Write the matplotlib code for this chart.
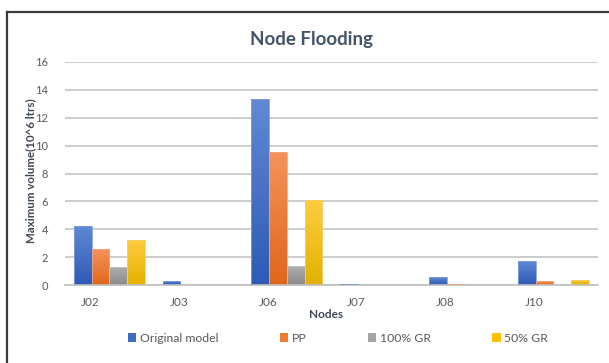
import numpy as np
import matplotlib
matplotlib.use("Agg")
import matplotlib.pyplot as plt
from matplotlib.colors import LinearSegmentedColormap
from matplotlib.lines import Line2D
from matplotlib.patches import Patch

plt.rcParams['font.family'] = ['Lato', 'DejaVu Sans']

# ---- data -------------------------------------------------------------
nodes = ["J02", "J03", "J06", "J07", "J08", "J10"]
original_model = [4.24, 0.29, 13.33, 0.07, 0.57, 1.72]
pp = [2.58, 0.0, 9.55, 0.0, 0.07, 0.27]
gr_100 = [1.27, 0.0, 1.36, 0.0, 0.0, 0.0]
gr_50 = [3.23, 0.0, 6.10, 0.0, 0.0, 0.36]
series_names = ["Original model", "PP", "100% GR", "50% GR"]
y_ticks = [0, 2, 4, 6, 8, 10, 12, 14, 16]

# gradient (top, bottom) and edge colour per series
styles = [
    ("#6189D4", "#2C5AB6", "#7E9EDB"),
    ("#F5935C", "#E0661A", "#F2A578"),
    ("#AEAEAE", "#8A8A8A", "#C4C4C4"),
    ("#FFCD40", "#E3B100", "#F0CF70"),
]
legend_colors = ["#3F6CC4", "#ED7D31", "#A5A5A5", "#FFC000"]

W, H = 609, 363
fig = plt.figure(figsize=(W / 100, H / 100), dpi=100)
ax = fig.add_axes([65 / W, 1 - 285 / H, (597.7 - 65) / W, (285 - 62) / H])

x = np.arange(len(nodes))
bar_w = 0.2
all_series = [original_model, pp, gr_100, gr_50]

grad = np.linspace(0, 1, 256).reshape(-1, 1)
for i, (vals, (top, bottom, edge)) in enumerate(zip(all_series, styles)):
    offs = (i - 1.5) * bar_w
    bars = ax.bar(x + offs, vals, width=bar_w, color="none",
                  edgecolor=edge, linewidth=0.6, zorder=3)
    cmap = LinearSegmentedColormap.from_list(f"g{i}", [bottom, top])
    for b in bars:
        h = b.get_height()
        if h <= 0:
            continue
        x0 = b.get_x()
        im = ax.imshow(grad, extent=(x0, x0 + bar_w, 0, h), origin="lower",
                       cmap=cmap, aspect="auto", zorder=2.5,
                       interpolation="bilinear")
        im.set_clip_path(b)

ax.set_xlim(-0.5, len(nodes) - 0.5)
ax.set_ylim(0, 16)
ax.set_yticks(y_ticks)
ax.set_yticklabels([str(t) for t in y_ticks])
ax.set_xticks(x - 0.215)
ax.set_xticklabels(nodes)

ax.grid(axis="y", color="#C4C4C4", linewidth=1.2, zorder=0)
ax.set_axisbelow(True)
for s in ["top", "right", "left"]:
    ax.spines[s].set_visible(False)
ax.spines["bottom"].set_color("#BFBFBF")
ax.spines["bottom"].set_linewidth(1.2)
ax.tick_params(axis="both", length=0, colors="#595959")
ax.tick_params(axis="x", labelsize=8.5, pad=8.5)
ax.tick_params(axis="y", labelsize=8, pad=12)

# titles
fig.text(311 / W, 1 - 40 / H, "Node Flooding", ha="center", va="center",
         fontsize=13.5, fontweight="bold", color="#44546A")
fig.text(326 / W, 1 - 314 / H, "Nodes", ha="center", va="center",
         fontsize=8.5, fontweight="bold", color="#3E4756")
fig.text(31 / W, 1 - 171 / H, "Maximum volume(10^6 ltrs)", ha="center",
         va="center", rotation=90, fontsize=8.3, fontweight="bold",
         color="#3E4756")

# legend
handles = [Patch(facecolor=c, edgecolor="none") for c in legend_colors]
fig.legend(handles, series_names, loc="center", ncol=4,
           bbox_to_anchor=(338 / W, 1 - 338 / H), frameon=False,
           fontsize=8.8, labelcolor="#595959", handlelength=0.7,
           handleheight=0.7, handletextpad=0.3, columnspacing=5.0)

# outer frame (top and left edges)
fig.add_artist(Line2D([6.5 / W, 6.5 / W], [1 - 12 / H, 0], color="#3A3A3A",
                      linewidth=1.6, transform=fig.transFigure))
fig.add_artist(Line2D([6.5 / W, 1], [1 - 12 / H, 1 - 12 / H], color="#3A3A3A",
                      linewidth=1.6, transform=fig.transFigure))

fig.savefig("out.png", dpi=100)
